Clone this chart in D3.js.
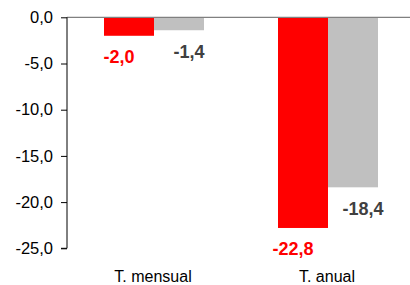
<!DOCTYPE html>
<html><head><meta charset="utf-8">
<script src="https://cdn.jsdelivr.net/npm/d3@7"></script>
<style>body{margin:0;background:#fff}svg{display:block}text{font-family:"Liberation Sans",Arial,sans-serif}</style>
</head><body><svg id="c" width="410" height="285"></svg>
<script>
const categories = ["T. mensual", "T. anual"];
const seriesNames = ["a", "b"];
const seriesA = [-2.0, -22.8];
const seriesB = [-1.4, -18.4];
const yTicks = [0, -5, -10, -15, -20, -25];
const colors = ["#ff0000", "#c0c0c0"];
const labelColors = ["#ff0000", "#404040"];

const svg = d3.select("#c");
const mLeft = 67, mRight = 415, mTop = 17.3, mBottom = 248.3;
const x = d3.scaleBand().domain(categories).range([mLeft, mRight]).paddingInner(0).paddingOuter(0);
const inner = d3.scaleBand().domain(seriesNames).range([0, 100]);
const y = d3.scaleLinear().domain([-25, 0]).range([mBottom, mTop]);
const fmt = v => d3.format(".1f")(v).replace(".", ",").replace("−", "-");

const data = [];
categories.forEach((c, i) => {
  data.push({c, s: "a", v: seriesA[i], k: 0});
  data.push({c, s: "b", v: seriesB[i], k: 1});
});

// bars
svg.selectAll("rect.bar").data(data).join("rect")
  .attr("x", d => x(d.c) + x.bandwidth()/2 - 50 + inner(d.s))
  .attr("width", inner.bandwidth())
  .attr("y", y(0))
  .attr("height", d => y(d.v) - y(0))
  .attr("fill", d => colors[d.k]);

// zero line
svg.append("line").attr("x1", mLeft).attr("x2", 410).attr("y1", y(0)).attr("y2", y(0))
  .attr("stroke", "#808080").attr("stroke-width", 1.2);

// y axis
const ax = svg.append("g").attr("transform", `translate(${mLeft},0)`)
  .call(d3.axisLeft(y).tickValues(yTicks).tickSize(6).tickPadding(8).tickFormat(fmt));
ax.select(".domain").attr("stroke", "#000").attr("d", `M-6,${mBottom}H0V${mTop}`);
ax.selectAll(".tick line").attr("stroke", "#000");
ax.selectAll(".tick text").attr("font-size", 16.5).attr("fill", "#000").attr("font-family", "Liberation Sans, Arial, sans-serif");

// category labels
svg.selectAll("text.cat").data(categories).join("text")
  .attr("x", d => x(d) + x.bandwidth()/2 - 1)
  .attr("y", 282)
  .attr("text-anchor", "middle").attr("font-size", 16).attr("fill", "#000")
  .text(d => d);

// value labels
svg.selectAll("text.val").data(data).join("text")
  .attr("x", d => x(d.c) + x.bandwidth()/2 - 50 + inner(d.s) + inner.bandwidth()/2 + (d.k === 0 ? -10 : 10))
  .attr("y", d => y(d.v) + 27.5)
  .attr("text-anchor", "middle").attr("font-size", 18).attr("font-weight", "bold")
  .attr("fill", d => labelColors[d.k])
  .text(d => fmt(d.v));
</script></body></html>
